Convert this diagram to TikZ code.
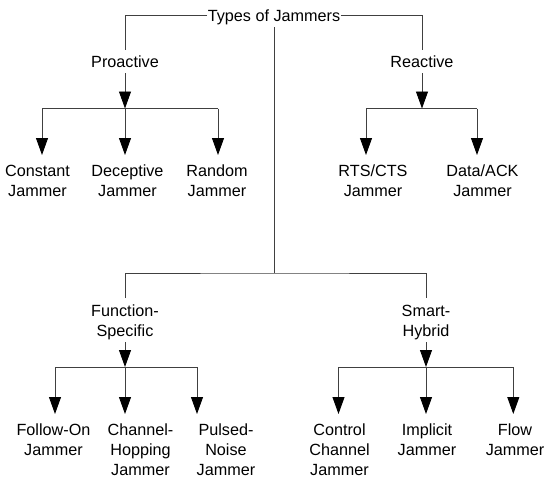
\documentclass[tikz,border=0pt]{standalone}
\usepackage{fontspec}
\setmainfont{Liberation Sans}
\usetikzlibrary{arrows.meta}
\definecolor{lc}{RGB}{64,64,64}
\begin{document}
\begin{tikzpicture}[x=1pt,y=-1pt,
  lbl/.style={inner sep=0pt, align=center, font=\fontsize{16.2}{20}\selectfont, text=black, anchor=north},
  ln/.style={draw=lc, line width=0.9pt},
  arr/.style={ln, -{Triangle[width=12pt,length=17pt,color=black]}}]
\useasboundingbox (0,0) rectangle (550,482);
% nodes
\node[lbl, anchor=center, text height=18pt, text depth=6pt, inner xsep=0.5pt] (root) at (274,15) {Types of Jammers};
\node[lbl] (pro) at (125,53) {\strut Proactive};
\node[lbl] (rea) at (422,53) {\strut Reactive};
\node[lbl] (c1) at (37.5,162) {\strut Constant\\\strut Jammer};
\node[lbl] (c2) at (127.5,162) {\strut Deceptive\\\strut Jammer};
\node[lbl] (c3) at (217,162) {\strut Random\\\strut Jammer};
\node[lbl] (r1) at (373,162) {\strut RTS/CTS\\\strut Jammer};
\node[lbl] (r2) at (482.5,162) {\strut Data/ACK\\\strut Jammer};
\node[lbl] (fs) at (125,302) {\strut Function-\\\strut Specific};
\node[lbl] (sh) at (426,302) {\strut Smart-\\\strut Hybrid};
\node[lbl] (f1) at (53.5,421) {\strut Follow-On\\\strut Jammer};
\node[lbl] (f2) at (140.5,421) {\strut Channel-\\\strut Hopping\\\strut Jammer};
\node[lbl] (f3) at (226,421) {\strut Pulsed-\\\strut Noise\\\strut Jammer};
\node[lbl] (s1) at (339.5,421) {\strut Control\\\strut Channel\\\strut Jammer};
\node[lbl] (s2) at (427,421) {\strut Implicit\\\strut Jammer};
\node[lbl] (s3) at (515,421) {\strut Flow\\\strut Jammer};
% bar coordinates
\coordinate (pb1) at (42,108.5);
\coordinate (pb3) at (218,108.5);
\coordinate (rb1) at (366,108.5);
\coordinate (rb2) at (477,108.5);
\coordinate (mbar) at (274,273);
\coordinate (fb1) at (55,367);
\coordinate (fb3) at (197,367);
\coordinate (sb1) at (338.5,367);
\coordinate (sb3) at (513.3,367);
% top level
\draw[ln] (root.west) -| ([yshift=3pt]pro.north);
\draw[ln] (root.east) -| ([yshift=3pt]rea.north);
\draw[ln] (root.south) -- (mbar);
\draw[ln] ([yshift=4pt]fs.north) |- (mbar) -| ([yshift=4pt]sh.north);
% proactive
\draw[arr] (pro.south) -- (pro.south |- pb1);
\draw[ln] (pb1) -- (pb3);
\draw[arr, shorten >=7pt] (pb1) -- (pb1 |- c1.north);
\draw[arr, shorten >=7pt] (pro.south |- pb1) -- (pro.south |- c2.north);
\draw[arr, shorten >=7pt] (pb3) -- (pb3 |- c3.north);
% reactive
\draw[arr] (rea.south) -- (rea.south |- rb1);
\draw[ln] (rb1) -- (rb2);
\draw[arr, shorten >=7pt] (rb1) -- (rb1 |- r1.north);
\draw[arr, shorten >=7pt] (rb2) -- (rb2 |- r2.north);
% function-specific
\draw[arr] (fs.south) -- (fs.south |- fb1);
\draw[ln] (fb1) -- (fb3);
\draw[arr, shorten >=7pt] (fb1) -- (fb1 |- f1.north);
\draw[arr, shorten >=7pt] (fs.south |- fb1) -- (fs.south |- f2.north);
\draw[arr, shorten >=7pt] (fb3) -- (fb3 |- f3.north);
% smart-hybrid
\draw[arr] (sh.south) -- (sh.south |- sb1);
\draw[ln] (sb1) -- (sb3);
\draw[arr, shorten >=7pt] (sb1) -- (sb1 |- s1.north);
\draw[arr, shorten >=7pt] (sh.south |- sb1) -- (sh.south |- s2.north);
\draw[arr, shorten >=7pt] (sb3) -- (sb3 |- s3.north);
\end{tikzpicture}
\end{document}
